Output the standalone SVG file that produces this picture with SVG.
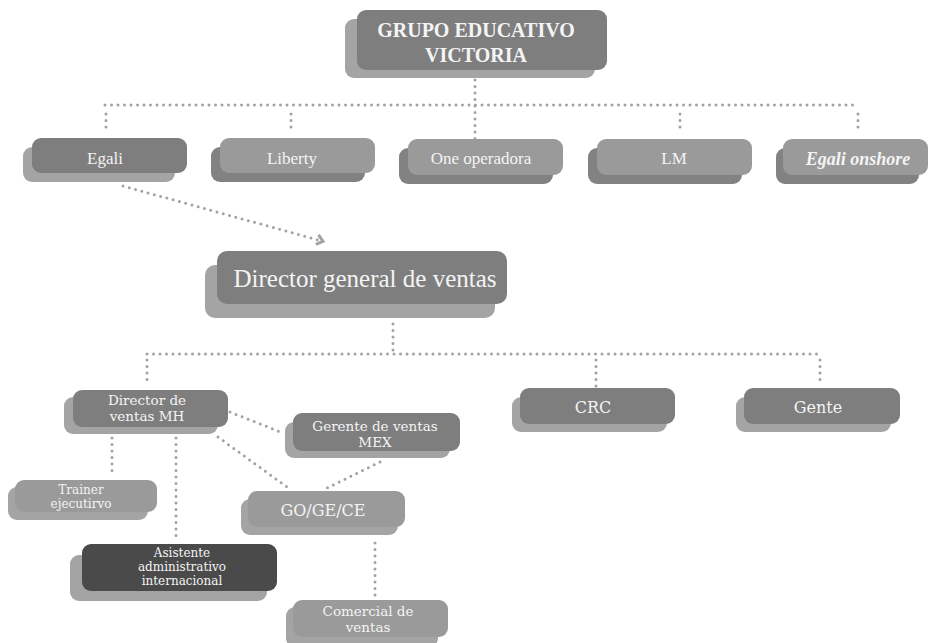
<svg xmlns="http://www.w3.org/2000/svg" width="930" height="643" viewBox="0 0 930 643">
<style>
.bg{fill:#ffffff}
.dk{fill:#7e7e7e}
.lt{fill:#a4a4a4}
.md{fill:#9a9a9a}
.sd{fill:#828282}
.xd{fill:#4a4a4a}
.t{fill:#f4f4f4;text-anchor:middle}
.c{fill:none;stroke:#a2a2a2;stroke-width:3;stroke-linecap:round;stroke-dasharray:0 6.5}
</style>
<defs>
<marker id="arr" markerWidth="12" markerHeight="12" refX="6" refY="6" orient="auto" markerUnits="userSpaceOnUse">
<path d="M1,1 L7,6 L1,11" fill="none" stroke="#a2a2a2" stroke-width="3"/>
</marker>
</defs>
<rect class="bg" x="0" y="0" width="930" height="643"/>
<g id="connectors">
<path class="c" d="M475,80 V140"/>
<path class="c" d="M105,105 H858"/>
<path class="c" d="M106,114 V133"/>
<path class="c" d="M291,114 V133"/>
<path class="c" d="M680,114 V133"/>
<path class="c" d="M858,114 V133"/>
<path class="c" d="M123,186 L322,241" marker-end="url(#arr)"/>
<path class="c" d="M393,324 V354"/>
<path class="c" d="M147,354 H820"/>
<path class="c" d="M147,360 V384"/>
<path class="c" d="M596,360 V387"/>
<path class="c" d="M820,360 V385"/>
<path class="c" d="M230,412 L283,433"/>
<path class="c" d="M218,437 L287,487"/>
<path class="c" d="M380,462 L327,488"/>
<path class="c" d="M112,438 V475"/>
<path class="c" d="M176,438 V540"/>
<path class="c" d="M375,543 V596"/>
</g>
<g font-family="Liberation Serif, serif">
<g id="n-grupo">
<rect class="lt" x="345" y="19" width="250" height="59" rx="9"/>
<rect class="dk" x="357" y="10" width="250" height="60" rx="9"/>
<text class="t" x="476" y="37" font-size="20" font-weight="bold">GRUPO EDUCATIVO</text>
<text class="t" x="476" y="62" font-size="20" font-weight="bold">VICTORIA</text>
</g>
<g id="n-egali">
<rect class="lt" x="23" y="147" width="152" height="35" rx="9"/>
<rect class="dk" x="32" y="138" width="155" height="35" rx="9"/>
<text class="t" x="105" y="164" font-size="17">Egali</text>
</g>
<g id="n-liberty">
<rect class="sd" x="211" y="147" width="154" height="35" rx="9"/>
<rect class="md" x="220" y="138" width="155" height="35" rx="9"/>
<text class="t" x="292" y="164" font-size="17">Liberty</text>
</g>
<g id="n-one">
<rect class="sd" x="399" y="148" width="154" height="36" rx="9"/>
<rect class="md" x="408" y="139" width="155" height="36" rx="9"/>
<text class="t" x="481" y="164" font-size="17">One operadora</text>
</g>
<g id="n-lm">
<rect class="sd" x="588" y="148" width="154" height="36" rx="9"/>
<rect class="md" x="597" y="139" width="155" height="36" rx="9"/>
<text class="t" x="674" y="164" font-size="17">LM</text>
</g>
<g id="n-onshore">
<rect class="sd" x="776" y="148" width="143" height="36" rx="9"/>
<rect class="md" x="783" y="139" width="145" height="36" rx="9"/>
<text class="t" x="858" y="165" font-size="18" font-weight="bold" font-style="italic">Egali onshore</text>
</g>
<g id="n-director">
<rect class="lt" x="205" y="265" width="290" height="53" rx="10"/>
<rect class="dk" x="217" y="251" width="290" height="53" rx="10"/>
<text class="t" x="365" y="287" font-size="25">Director general de ventas</text>
</g>
</g>
<g font-family="DejaVu Serif, serif">
<g id="n-crc">
<rect class="lt" x="512" y="397" width="155" height="35" rx="9"/>
<rect class="dk" x="520" y="388" width="155" height="36" rx="9"/>
<text class="t" x="593" y="413" font-size="16">CRC</text>
</g>
<g id="n-gente">
<rect class="lt" x="736" y="397" width="155" height="35" rx="9"/>
<rect class="dk" x="744" y="388" width="156" height="36" rx="9"/>
<text class="t" x="818" y="413" font-size="16">Gente</text>
</g>
<g id="n-mh">
<rect class="lt" x="64" y="397" width="154" height="37" rx="9"/>
<rect class="dk" x="73" y="390" width="155" height="37" rx="9"/>
<text class="t" x="147" y="405" font-size="13.5">Director de</text>
<text class="t" x="147" y="421" font-size="13.5">ventas MH</text>
</g>
<g id="n-gerente">
<rect class="lt" x="285" y="422" width="165" height="36" rx="9"/>
<rect class="dk" x="293" y="413" width="167" height="38" rx="9"/>
<text class="t" x="375" y="431" font-size="13.5">Gerente de ventas</text>
<text class="t" x="375" y="447" font-size="13.5">MEX</text>
</g>
<g id="n-trainer">
<rect class="lt" x="8" y="487" width="140" height="33" rx="9"/>
<rect class="md" x="15" y="480" width="142" height="32" rx="9"/>
<text class="t" x="81" y="494" font-size="12">Trainer</text>
<text class="t" x="81" y="508" font-size="12">ejecutirvo</text>
</g>
<g id="n-go">
<rect class="lt" x="241" y="499" width="157" height="36" rx="9"/>
<rect class="md" x="248" y="491" width="157" height="36" rx="9"/>
<text class="t" x="323" y="516" font-size="16">GO/GE/CE</text>
</g>
<g id="n-asistente">
<rect class="lt" x="70" y="555" width="197" height="46" rx="9"/>
<rect class="xd" x="82" y="544" width="195" height="47" rx="9"/>
<text class="t" x="182" y="557" font-size="12">Asistente</text>
<text class="t" x="182" y="571" font-size="12">administrativo</text>
<text class="t" x="182" y="585" font-size="12">internacional</text>
</g>
<g id="n-comercial">
<rect class="lt" x="286" y="607" width="152" height="40" rx="9"/>
<rect class="md" x="293" y="600" width="155" height="37" rx="9"/>
<text class="t" x="368" y="616" font-size="13.5">Comercial de</text>
<text class="t" x="368" y="632" font-size="13.5">ventas</text>
</g>
</g>
</svg>
